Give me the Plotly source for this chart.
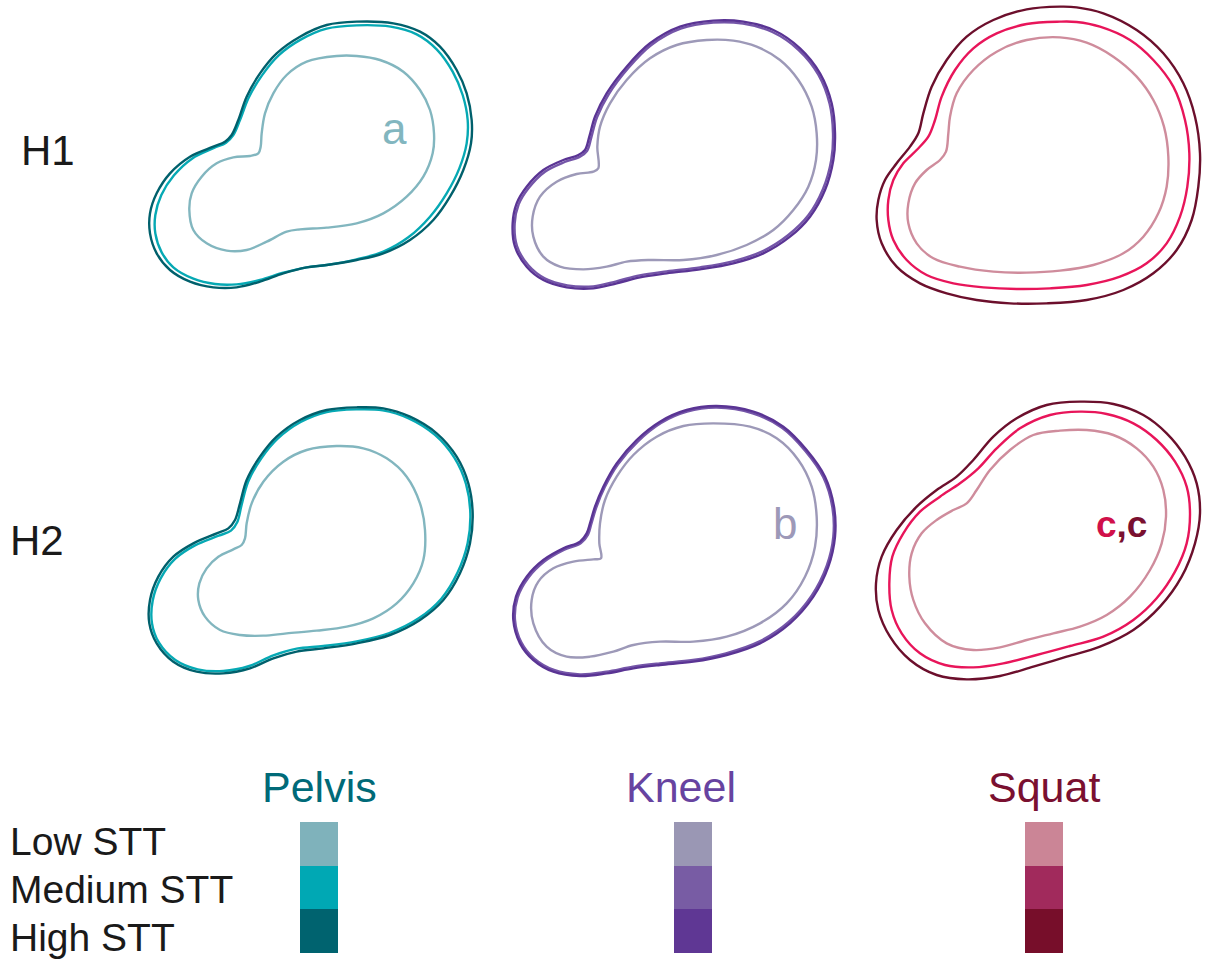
import plotly.graph_objects as go

FIG_W, FIG_H = 1206, 959

POSTURES = ["Pelvis", "Kneel", "Squat"]
HEIGHTS = ["H1", "H2"]
LEVELS = ["Low STT", "Medium STT", "High STT"]

# Contour outlines, (x, y) in drawing units (3 units per screen pixel, y downward)
PELVIS_H1_HIGH = [(650, 65), (560, 75), (480, 110), (410, 160), (360, 220), (320, 290), (295, 360), (275, 405),
                  (255, 425), (220, 440), (150, 470), (90, 520), (50, 580), (30, 640), (30, 700), (50, 760),
                  (90, 810), (150, 845), (220, 862), (290, 862), (360, 845), (430, 820), (500, 802), (560, 795),
                  (650, 780), (730, 760), (810, 720), (880, 660), (930, 590), (970, 510), (993, 430), (995, 360),
                  (980, 280), (950, 210), (900, 140), (840, 95), (760, 70)]
PELVIS_H1_MED = [(650, 76), (560, 86), (482, 119), (416, 166), (366, 226), (326, 293), (300, 360), (280, 405),
                 (258, 428), (222, 444), (156, 476), (102, 526), (64, 585), (46, 645), (46, 700), (65, 757),
                 (100, 802), (160, 836), (225, 852), (290, 853), (360, 840), (430, 818), (500, 802), (560, 795),
                 (650, 778), (730, 755), (805, 712), (870, 650), (920, 580), (958, 505), (980, 430), (983, 360),
                 (968, 285), (938, 215), (890, 148), (830, 103), (752, 80)]
PELVIS_H1_LOW = [(590, 168), (500, 185), (440, 225), (400, 280), (375, 340), (365, 400), (362, 440), (355, 460),
                 (330, 468), (280, 472), (230, 490), (185, 530), (155, 580), (148, 630), (160, 690), (200, 730),
                 (260, 752), (320, 750), (380, 725), (440, 695), (480, 688), (560, 683), (650, 670), (730, 640),
                 (800, 590), (850, 530), (878, 460), (882, 400), (870, 330), (840, 270), (790, 215), (720, 180),
                 (650, 168)]

KNEEL_H1_HIGH = [(640, 62), (540, 80), (450, 130), (380, 200), (320, 280), (285, 350), (268, 410), (255, 450),
                 (235, 465), (190, 480), (130, 510), (80, 560), (50, 610), (38, 670), (45, 740), (80, 800),
                 (130, 840), (200, 862), (280, 865), (350, 850), (420, 832), (500, 820), (600, 808), (700, 790),
                 (790, 760), (870, 710), (930, 650), (975, 570), (1000, 480), (1005, 400), (995, 310), (960, 220),
                 (900, 145), (820, 90), (730, 65)]
KNEEL_H1_MED = [(640, 68), (542, 86), (454, 135), (385, 204), (326, 283), (291, 352), (274, 412), (261, 453),
                (240, 470), (194, 486), (135, 515), (86, 564), (56, 613), (44, 670), (51, 738), (85, 796),
                (134, 835), (202, 856), (280, 859), (349, 844), (419, 826), (500, 814), (600, 802), (698, 784),
                (787, 754), (865, 705), (925, 646), (969, 567), (994, 479), (999, 400), (989, 312), (955, 224),
                (896, 150), (817, 96), (729, 71)]
KNEEL_H1_LOW = [(620, 120), (530, 135), (450, 175), (380, 240), (330, 310), (300, 380), (292, 440), (295, 505),
                (280, 515), (230, 522), (170, 545), (120, 590), (98, 650), (100, 710), (130, 770), (180, 800),
                (250, 808), (320, 800), (380, 785), (450, 780), (550, 780), (650, 765), (740, 735), (820, 690),
                (880, 630), (925, 560), (948, 480), (950, 400), (935, 320), (895, 240), (840, 180), (770, 140),
                (700, 122)]

SQUAT_H1_HIGH = [(600, 20), (500, 28), (400, 60), (320, 110), (260, 180), (215, 260), (190, 340), (175, 400),
                 (150, 440), (110, 490), (75, 540), (55, 600), (50, 660), (65, 730), (110, 800), (180, 850),
                 (260, 880), (350, 900), (450, 910), (560, 910), (680, 900), (790, 870), (880, 820), (950, 750),
                 (995, 660), (1015, 560), (1020, 460), (1005, 350), (970, 250), (910, 160), (830, 90), (730, 40),
                 (650, 22)]
SQUAT_H1_MED = [(600, 65), (500, 72), (410, 100), (340, 145), (285, 210), (245, 290), (225, 360), (205, 410),
                (170, 450), (130, 490), (100, 540), (85, 600), (85, 660), (100, 720), (140, 780), (200, 825),
                (280, 850), (370, 862), (470, 867), (570, 865), (680, 855), (780, 830), (860, 790), (920, 730),
                (960, 650), (982, 560), (988, 460), (975, 360), (940, 260), (880, 180), (810, 120), (720, 80),
                (650, 66)]
SQUAT_H1_LOW = [(600, 112), (500, 120), (410, 155), (340, 210), (290, 280), (270, 350), (265, 400), (258, 455),
                (240, 480), (200, 510), (165, 550), (145, 610), (145, 670), (170, 730), (220, 775), (300, 800),
                (400, 815), (500, 818), (600, 812), (700, 795), (790, 760), (850, 710), (895, 640), (920, 560),
                (925, 470), (912, 380), (880, 300), (830, 230), (760, 170), (680, 128)]

PELVIS_H2_HIGH = [(650, 52), (560, 60), (480, 90), (410, 140), (360, 200), (320, 270), (300, 340), (285, 390),
                  (265, 415), (230, 430), (160, 460), (100, 500), (55, 560), (30, 630), (28, 700), (50, 760),
                  (100, 815), (170, 845), (250, 850), (330, 835), (400, 805), (470, 785), (550, 775), (650, 760),
                  (750, 735), (840, 690), (910, 630), (960, 550), (990, 460), (998, 370), (985, 280), (950, 200),
                  (890, 130), (810, 80), (730, 55)]
PELVIS_H2_MED = [(650, 58), (560, 66), (482, 96), (413, 146), (364, 205), (325, 274), (305, 344), (292, 396),
                 (273, 422), (236, 437), (165, 466), (106, 506), (62, 565), (38, 632), (36, 700), (57, 758),
                 (106, 810), (173, 838), (250, 843), (328, 828), (400, 796), (470, 776), (550, 768), (650, 754),
                 (748, 729), (836, 685), (904, 626), (953, 547), (983, 459), (991, 370), (978, 282), (943, 203),
                 (884, 134), (806, 85), (728, 61)]
PELVIS_H2_LOW = [(590, 168), (500, 180), (430, 215), (370, 275), (335, 340), (320, 400), (315, 445), (305, 465),
                 (280, 478), (235, 500), (200, 535), (178, 580), (175, 630), (195, 680), (240, 720), (300, 735),
                 (370, 737), (440, 730), (530, 722), (620, 710), (700, 685), (770, 640), (820, 580), (850, 510),
                 (855, 420), (840, 340), (800, 260), (740, 205), (670, 175)]

KNEEL_H2_HIGH = [(650, 48), (560, 60), (480, 95), (410, 150), (350, 220), (310, 290), (285, 350), (270, 400),
                 (260, 430), (240, 455), (190, 475), (130, 510), (80, 560), (48, 620), (40, 690), (60, 760),
                 (100, 810), (160, 845), (240, 858), (320, 850), (400, 835), (480, 825), (580, 815), (680, 795),
                 (780, 760), (870, 700), (940, 620), (985, 530), (1005, 440), (1002, 350), (975, 260), (920, 180),
                 (850, 110), (760, 65)]
KNEEL_H2_MED = [(650, 53), (561, 65), (483, 99), (414, 154), (354, 223), (314, 292), (289, 352), (274, 402),
                (264, 434), (243, 459), (193, 479), (134, 514), (85, 563), (53, 622), (45, 690), (64, 757),
                (103, 806), (162, 840), (240, 853), (319, 845), (399, 830), (479, 820), (579, 810), (678, 790),
                (777, 755), (866, 696), (935, 617), (980, 528), (1000, 440), (997, 351), (970, 262), (916, 183),
                (847, 114), (758, 70)]
KNEEL_H2_LOW = [(640, 100), (550, 108), (470, 140), (400, 195), (350, 260), (315, 330), (300, 400), (298, 460),
                (303, 505), (280, 508), (220, 515), (160, 535), (115, 575), (95, 630), (100, 700), (140, 770),
                (200, 800), (270, 800), (340, 785), (400, 765), (480, 755), (580, 755), (680, 740), (780, 700),
                (860, 640), (915, 560), (945, 470), (950, 380), (935, 290), (895, 210), (830, 145), (750, 110)]

SQUAT_H2_HIGH = [(660, 35), (560, 45), (470, 85), (400, 140), (340, 210), (290, 260), (230, 300), (170, 350),
                 (110, 420), (65, 500), (48, 580), (55, 660), (90, 740), (150, 810), (230, 855), (320, 868),
                 (420, 858), (520, 830), (620, 800), (720, 770), (820, 720), (900, 650), (965, 560), (1005, 460),
                 (1020, 370), (1010, 280), (975, 200), (920, 130), (850, 75), (760, 42)]
SQUAT_H2_MED = [(660, 65), (570, 75), (480, 115), (410, 175), (355, 235), (300, 280), (240, 320), (180, 365),
                (130, 430), (97, 500), (88, 580), (95, 660), (125, 730), (180, 790), (255, 825), (340, 832),
                (430, 820), (530, 795), (630, 768), (730, 740), (820, 690), (890, 625), (945, 545), (980, 460),
                (990, 370), (980, 290), (945, 215), (890, 150), (820, 100), (740, 72)]
SQUAT_H2_LOW = [(600, 122), (520, 135), (450, 180), (390, 240), (350, 300), (320, 340), (280, 360), (230, 390),
                (185, 430), (155, 490), (148, 560), (160, 630), (195, 700), (260, 760), (340, 780), (420, 772),
                (500, 750), (580, 730), (660, 710), (740, 675), (810, 620), (870, 540), (905, 460), (918, 380),
                (910, 300), (880, 230), (830, 175), (760, 135), (680, 120)]

CONTOURS = {
    ("Pelvis", "H1"): [PELVIS_H1_LOW, PELVIS_H1_MED, PELVIS_H1_HIGH],
    ("Kneel", "H1"): [KNEEL_H1_LOW, KNEEL_H1_MED, KNEEL_H1_HIGH],
    ("Squat", "H1"): [SQUAT_H1_LOW, SQUAT_H1_MED, SQUAT_H1_HIGH],
    ("Pelvis", "H2"): [PELVIS_H2_LOW, PELVIS_H2_MED, PELVIS_H2_HIGH],
    ("Kneel", "H2"): [KNEEL_H2_LOW, KNEEL_H2_MED, KNEEL_H2_HIGH],
    ("Squat", "H2"): [SQUAT_H2_LOW, SQUAT_H2_MED, SQUAT_H2_HIGH],
}

LINE_COLORS = {
    "Pelvis": ["#82b6bf", "#06a9b4", "#00606c"],
    "Kneel": ["#9d99b8", "#7455a8", "#5a3494"],
    "Squat": ["#cf8c9c", "#e8155a", "#6c0f2c"],
}
SWATCH_COLORS = {
    "Pelvis": ["#7fb2bb", "#00a8b4", "#00636f"],
    "Kneel": ["#9a97b4", "#785ca4", "#5f3794"],
    "Squat": ["#cb8596", "#a12a5c", "#770e2a"],
}
TITLE_COLORS = {"Pelvis": "#006a78", "Kneel": "#6743a0", "Squat": "#7a1030"}
SWATCH_VALUE = [1, 1, 1]

# panel frames in screen pixels
COL_FRAMES = [(140, 480), (500, 860), (860, 1206)]
ROW_FRAMES = [(0, 310), (390, 700)]
SWATCH_COLS = [(300, 338), (674, 712), (1025, 1063)]
SWATCH_ROWS = (822, 953)
TITLE_CENTERS = [319, 681, 1044]
UNITS_PER_PX = 3

FONT = "Liberation Sans, Arial, sans-serif"


def px_x(v):
    return v / FIG_W


def px_y(v):
    return 1 - v / FIG_H


fig = go.Figure()
layout_axes = {}
k = 0
for r, hname in enumerate(HEIGHTS):
    for c, posture in enumerate(POSTURES):
        k += 1
        xa = "x" if k == 1 else f"x{k}"
        ya = "y" if k == 1 else f"y{k}"
        x0, x1 = COL_FRAMES[c]
        y0, y1 = ROW_FRAMES[r]
        for lvl, pts in enumerate(CONTOURS[(posture, hname)]):
            # repeating the first point makes plotly close the spline smoothly
            xs = [p[0] for p in pts] + [pts[0][0]]
            ys = [p[1] for p in pts] + [pts[0][1]]
            fig.add_trace(go.Scatter(
                x=xs, y=ys, mode="lines", xaxis=xa, yaxis=ya,
                line=dict(color=LINE_COLORS[posture][lvl], width=2.4, shape="spline", smoothing=1.0),
                hoverinfo="skip", showlegend=False,
            ))
        axn = "" if k == 1 else str(k)
        layout_axes[f"xaxis{axn}"] = dict(domain=[px_x(x0), px_x(x1)], range=[0, (x1 - x0) * UNITS_PER_PX],
                                          visible=False, anchor=ya, fixedrange=True)
        layout_axes[f"yaxis{axn}"] = dict(domain=[px_y(y1), px_y(y0)], range=[(y1 - y0) * UNITS_PER_PX, 0],
                                          visible=False, anchor=xa, fixedrange=True)

# colour swatches: one stacked bar per posture
for c, posture in enumerate(POSTURES):
    k += 1
    xa, ya = f"x{k}", f"y{k}"
    for lvl, level in enumerate(LEVELS):
        fig.add_trace(go.Bar(
            x=[posture], y=[SWATCH_VALUE[lvl]], xaxis=xa, yaxis=ya, width=1,
            marker=dict(color=SWATCH_COLORS[posture][lvl], line=dict(width=0)),
            hoverinfo="skip", showlegend=False, name=level,
        ))
    sx0, sx1 = SWATCH_COLS[c]
    layout_axes[f"xaxis{k}"] = dict(domain=[px_x(sx0), px_x(sx1)], range=[-0.5, 0.5], visible=False,
                                    anchor=ya, fixedrange=True)
    layout_axes[f"yaxis{k}"] = dict(domain=[px_y(SWATCH_ROWS[1]), px_y(SWATCH_ROWS[0])],
                                    range=[sum(SWATCH_VALUE), 0], visible=False, anchor=xa, fixedrange=True)

annotations = []


def label(text, x, y, size, color="#1a1a1a", xanchor="left"):
    annotations.append(dict(text=text, x=px_x(x), y=px_y(y), xref="paper", yref="paper",
                            xanchor=xanchor, yanchor="middle", showarrow=False,
                            font=dict(family=FONT, size=size, color=color)))


label("H1", 19, 150, 42)
label("H2", 8, 540, 42)
for c, posture in enumerate(POSTURES):
    label(posture, TITLE_CENTERS[c], 787, 43, TITLE_COLORS[posture], xanchor="center")
label(LEVELS[0], 8, 841, 39)
label(LEVELS[1], 8, 889, 39)
label(LEVELS[2], 8, 937, 39)
label("a", 394, 128, 44, LINE_COLORS["Pelvis"][0], xanchor="center")
label("b", 785, 523, 44, LINE_COLORS["Kneel"][0], xanchor="center")
label('<b><span style="color:#d0104a">c</span>,<span style="color:#7a1030">c</span></b>', 1121, 524, 37,
      "#7a1030", xanchor="center")

fig.update_layout(
    width=FIG_W, height=FIG_H, margin=dict(l=0, r=0, t=0, b=0),
    paper_bgcolor="white", plot_bgcolor="rgba(0,0,0,0)",
    barmode="stack", bargap=0, showlegend=False,
    annotations=annotations, **layout_axes,
)

fig.write_html("out.html", config={"displayModeBar": False})
